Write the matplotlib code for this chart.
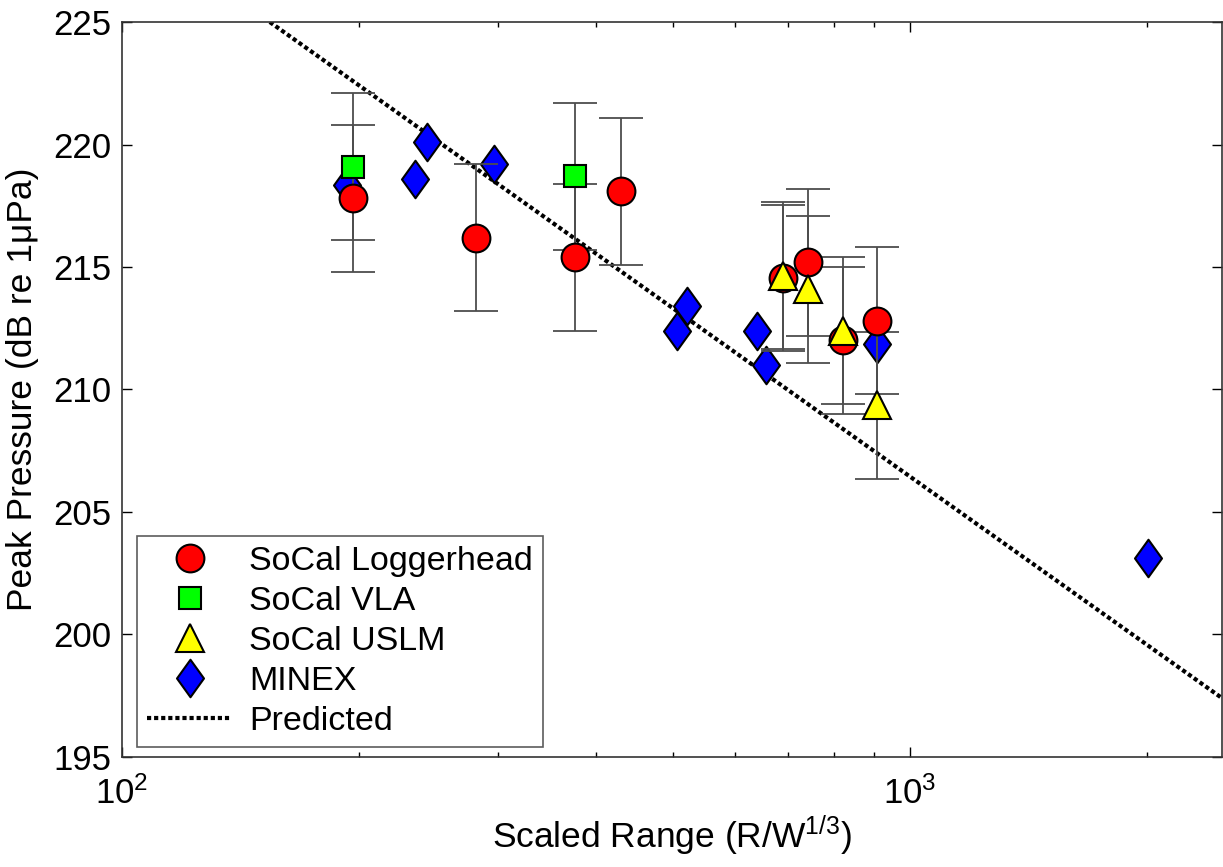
import numpy as np
import matplotlib
matplotlib.use('Agg')
from matplotlib import pyplot as plt
from matplotlib.path import Path

plt.rcParams['font.family'] = ['Liberation Sans', 'DejaVu Sans']
plt.rcParams['mathtext.default'] = 'regular'

# data
log_x = [196.6, 281, 376, 430, 690, 743, 822, 908]
log_y = [217.8, 216.2, 215.4, 218.1, 214.55, 215.2, 212.0, 212.8]
vla_x = [196.6, 376]
vla_y = [219.1, 218.7]
uslm_x = [690, 743, 822, 908]
uslm_y = [214.65, 214.1, 212.4, 209.35]
minex_x = [193, 235.5, 244, 296.5, 507, 521, 639, 656, 908, 2006]
minex_y = [218.35, 218.6, 220.1, 219.2, 212.4, 213.4, 212.4, 211.0, 211.85, 203.1]
pred_x = [154, 2490]
pred_y = [225.0, 197.4]
err = 3.0

diamond = Path([(0, 1), (0.72, 0), (0, -1), (-0.72, 0), (0, 1)],
               [Path.MOVETO, Path.LINETO, Path.LINETO, Path.LINETO, Path.CLOSEPOLY])

fig = plt.figure(figsize=(12.23, 8.67), dpi=100)
ax = fig.add_axes([0.0998, 0.127, 0.8994, 0.8476])

ax.plot(pred_x, pred_y, color='black', lw=3, ls=(0, (1.0, 0.7)), zorder=1, label='Predicted')
ax.plot(minex_x, minex_y, ls='none', marker=diamond, ms=27, mfc='#0000ff', mec='black', mew=1.5,
        zorder=2, label='MINEX')

ebkw = dict(fmt='none', ecolor='#4d4d4d', elinewidth=1.3, capsize=16, capthick=1.3, zorder=3)
ax.errorbar(log_x, log_y, yerr=err, **ebkw)
ax.errorbar(vla_x, vla_y, yerr=err, **ebkw)
ax.errorbar(uslm_x, uslm_y, yerr=err, **ebkw)

ax.plot(log_x, log_y, ls='none', marker='o', ms=20, mfc='#ff0000', mec='black', mew=1.5,
        zorder=4, label='SoCal Loggerhead')
ax.plot(vla_x, vla_y, ls='none', marker='s', ms=16, mfc='#00ff00', mec='black', mew=1.5,
        zorder=5, label='SoCal VLA')
ax.plot(uslm_x, uslm_y, ls='none', marker='^', ms=20, mfc='#ffff00', mec='black', mew=1.5,
        zorder=6, label='SoCal USLM')

ax.set_xscale('log')
ax.set_xlim(100, 2490)
ax.set_ylim(195, 225)
ax.set_yticks([195, 200, 205, 210, 215, 220, 225])
ax.set_xticks([100, 1000])
ax.set_xticklabels(['$10^2$', '$10^3$'])

ax.tick_params(which='both', direction='in', top=True, right=True, labelsize=25)
ax.tick_params(which='major', length=7, width=1)
ax.tick_params(which='minor', length=3.5, width=1)
ax.tick_params(axis='x', pad=14)
ax.tick_params(axis='y', pad=8)
for s in ax.spines.values():
    s.set_linewidth(1.2)
    s.set_color('#333333')

ax.set_xlabel('Scaled Range (R/W$^{1/3}$)', fontsize=25.5, labelpad=2)
ax.set_ylabel('Peak Pressure (dB re 1\u03bcPa)', fontsize=25.5, labelpad=10)

h, l = ax.get_legend_handles_labels()
order = ['SoCal Loggerhead', 'SoCal VLA', 'SoCal USLM', 'MINEX', 'Predicted']
hs = [h[l.index(o)] for o in order]
leg = ax.legend(hs, order, loc='lower left', bbox_to_anchor=(0.0136, 0.0136), borderaxespad=0,
                fontsize=24.5, frameon=True, fancybox=False, edgecolor='#333333', borderpad=0.3,
                labelspacing=0.26, handlelength=2.5, handletextpad=0.5, markerscale=1.0)
leg.get_frame().set_linewidth(1.2)

fig.savefig('out.png', dpi=100)
